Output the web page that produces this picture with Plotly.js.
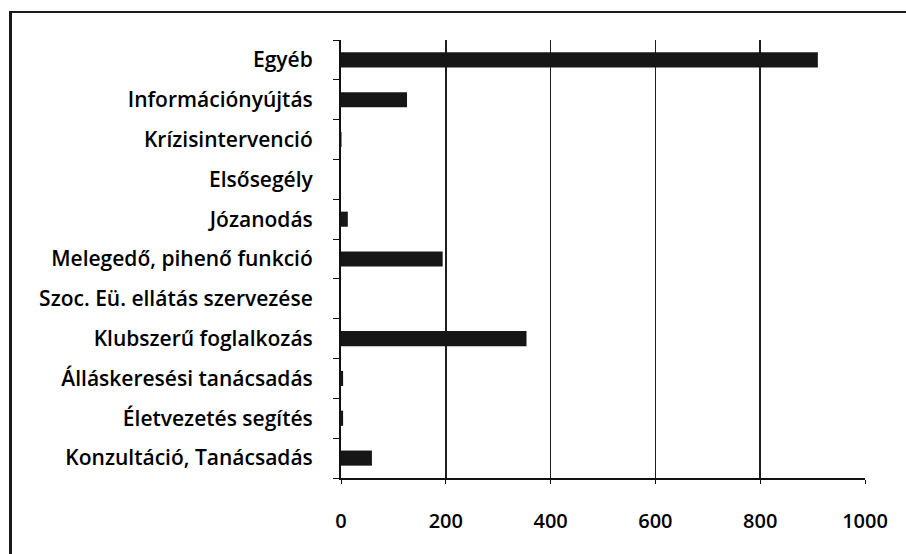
<!DOCTYPE html>
<html>
<head>
<meta charset="utf-8">
<script src="https://cdn.plot.ly/plotly-3.0.1.min.js"></script>
<style>
  html, body { margin: 0; padding: 0; background: #fff; }
  #wrap { position: relative; width: 906px; height: 554px; }
  #chart { position: absolute; left: 0; top: 0; width: 906px; height: 554px; }
  #frame { position: absolute; left: 9px; top: 11px; width: 897px; height: 543px;
           border-left: 3px solid #1a1a1a; border-top: 2px solid #1a1a1a; pointer-events: none; }
</style>
</head>
<body>
<div id="wrap">
  <div id="chart"></div>
  <div id="frame"></div>
</div>
<script>
// Categories listed bottom to top
const categories = [
  "Konzultáció, Tanácsadás",
  "Életvezetés segítés",
  "Álláskeresési tanácsadás",
  "Klubszerű foglalkozás",
  "Szoc. Eü. ellátás szervezése",
  "Melegedő, pihenő funkció",
  "Józanodás",
  "Elsősegély",
  "Krízisintervenció",
  "Információnyújtás",
  "Egyéb"
];
const values = [59, 4, 4, 354, 0, 194, 13, 0, 1, 126, 910];
const xTicks = [0, 200, 400, 600, 800, 1000];

const trace = {
  type: "bar",
  orientation: "h",
  y: categories,
  x: values,
  marker: { color: "#161616", line: { width: 0 } },
  hoverinfo: "x+y"
};

const layout = {
  width: 906,
  height: 554,
  margin: { l: 341, r: 41, t: 40, b: 76 },
  paper_bgcolor: "#ffffff",
  plot_bgcolor: "#ffffff",
  showlegend: false,
  bargap: 0.62,
  font: { family: "'Open Sans', sans-serif", color: "#000" },
  xaxis: {
    range: [0, 1000],
    tickvals: xTicks,
    ticktext: xTicks.map(String),
    showgrid: true,
    gridcolor: "#1e1e1e",
    gridwidth: 1.5,
    zeroline: false,
    showline: true,
    linecolor: "#111",
    linewidth: 1.5,
    ticks: "outside",
    ticklen: 4,
    tickcolor: "#111",
    tickfont: { size: 20, family: "'Open Sans', sans-serif", color: "#000", weight: 600 },
    ticklabelstandoff: 20,
    fixedrange: true
  },
  yaxis: {
    type: "category",
    categoryorder: "array",
    categoryarray: categories,
    showgrid: false,
    zeroline: false,
    showline: true,
    linecolor: "#111",
    linewidth: 2,
    ticks: "outside",
    tickson: "boundaries",
    ticklen: 6,
    tickcolor: "#111",
    tickfont: { size: 21, family: "'Open Sans', sans-serif", color: "#000", weight: 600 },
    ticklabelstandoff: 22,
    fixedrange: true
  }
};

Plotly.newPlot("chart", [trace], layout, { displayModeBar: false, staticPlot: true });
</script>
</body>
</html>
